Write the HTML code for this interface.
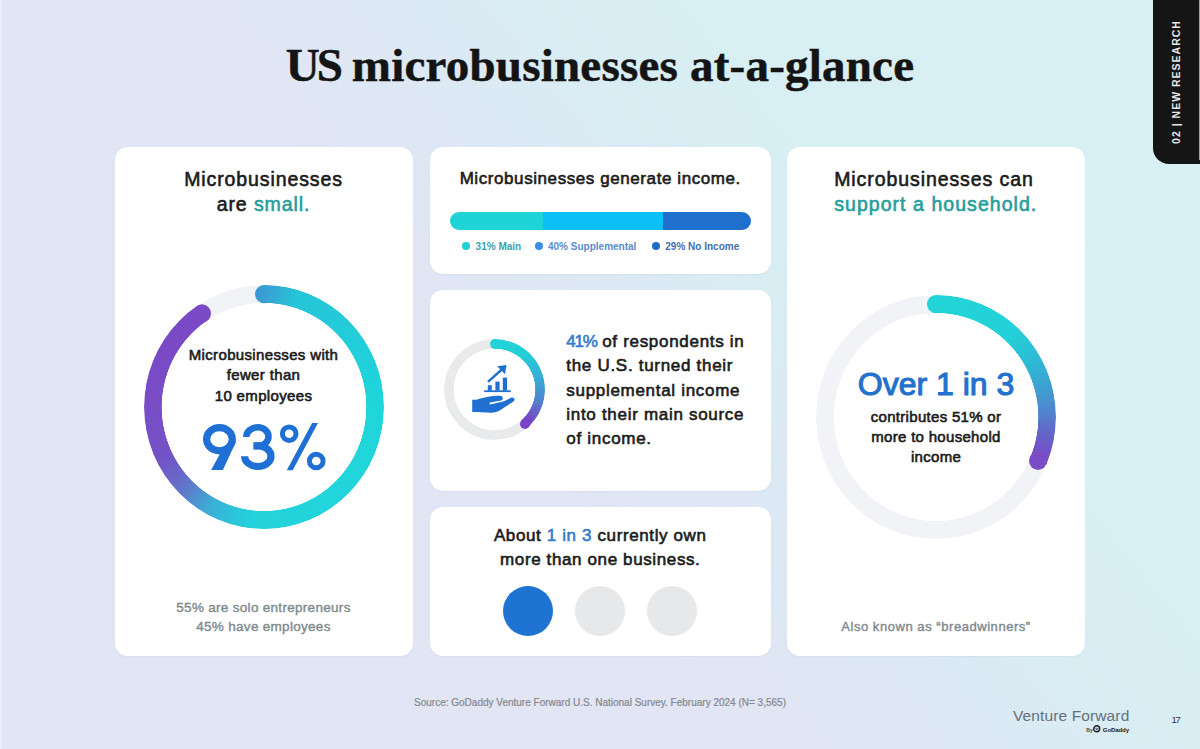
<!DOCTYPE html>
<html><head><meta charset="utf-8">
<style>
*{margin:0;padding:0;box-sizing:border-box}
html,body{width:1200px;height:749px;overflow:hidden}
body{position:relative;font-family:"Liberation Sans",sans-serif;color:#1b1b1b;
 background:linear-gradient(51deg,#e2e5f5 0%,#e1e5f4 43%,#dce9f4 55%,#d8eef3 66%,#d7f1f3 100%)}
.abs{position:absolute}
.t{position:absolute;white-space:nowrap;-webkit-text-stroke:0.6px currentColor}
.card{position:absolute;background:#fff;border-radius:13px;box-shadow:0 1px 2px rgba(70,80,130,0.06)}
.teal{color:#279d9c}
.blue{color:#2a7bd2}
.ring{position:absolute;border-radius:50%}
.cap{position:absolute;border-radius:50%}
</style></head><body>

<!-- Title -->
<div class="t" style="left:0;width:1200px;text-align:center;top:41.5px;font:bold 47px/47px 'Liberation Serif',serif;color:#141414;letter-spacing:0.22px;-webkit-text-stroke:0.5px #141414"><span style="letter-spacing:-3px">US</span> microbusinesses at-a-glance</div>

<!-- Tab -->
<div class="abs" style="left:1153px;top:0;width:47px;height:164px;background:#151515;border-bottom-left-radius:16px"></div>
<div class="t" style="left:1176.3px;top:81.8px;transform:translate(-50%,-50%) rotate(-90deg);font:bold 10.5px/12px 'Liberation Sans',sans-serif;-webkit-text-stroke:0;color:#e6e6e6;letter-spacing:1.0px">02 | NEW RESEARCH</div>

<div class="abs" style="left:1199px;top:0;width:1px;height:160px;background:#9aa3a6"></div>
<div class="abs" style="left:0;top:0;width:1.5px;height:749px;background:#e9ecfa"></div>
<!-- Cards -->
<div class="card" style="left:114.5px;top:146.5px;width:298px;height:509.5px"></div>
<div class="card" style="left:429.5px;top:146.5px;width:341.5px;height:127px"></div>
<div class="card" style="left:429.5px;top:290px;width:341.5px;height:201px"></div>
<div class="card" style="left:429.5px;top:507px;width:341.5px;height:149px"></div>
<div class="card" style="left:787px;top:146.5px;width:298px;height:509.5px"></div>

<!-- Card 1 -->
<div class="t" style="left:114.5px;width:298px;text-align:center;top:166.9px;font-size:19.5px;line-height:24.7px;letter-spacing:0.9px">Microbusinesses<br>are <span class="teal">small.</span></div>

<!--R1-->
<div class="abs" style="left:143.80px;top:287.25px;width:240px;height:240px;transform:scaleY(1.017)">
 <div class="ring" style="left:0;top:0;width:240px;height:240px;background:#f2f3f6;-webkit-mask:radial-gradient(farthest-side,transparent calc(100% - 18px),#000 calc(100% - 17.4px))"></div>
 <div class="ring" style="left:0;top:0;width:240px;height:240px;background:conic-gradient(#3d9bd3 0deg,#26c4d8 16deg,#1fd6da 90deg,#24d2dc 185deg,#2ac6d8 195deg,#3ab0d8 208deg,#5a80cc 222deg,#6a66c8 232deg,#7452c6 245deg,#7a4cc6 280deg,#7a48c6 325deg,transparent 326deg);-webkit-mask:radial-gradient(farthest-side,transparent calc(100% - 18px),#000 calc(100% - 17.4px))"></div>
 <div class="cap" style="left:111.00px;top:0;width:18px;height:18px;background:linear-gradient(90deg,#3b95d3,#3aa2d4 70%,#36aad5)"></div>
 <div class="cap" style="left:48.93px;top:18.98px;width:18px;height:18px;background:#7a4ac6"></div>
</div>
<!--/R1-->

<div class="t" style="left:114.5px;width:298px;text-align:center;top:345.35px;font-size:15px;line-height:20.1px;letter-spacing:0.35px">Microbusinesses with<br>fewer than<br>10 employees</div>
<svg class="abs" style="left:195px;top:415px" width="140" height="60" viewBox="195 415 140 60">
 <g fill="none" stroke="#1f70d4">
  <ellipse cx="219.45" cy="439.2" rx="12.85" ry="11.6" stroke-width="7.2"/>
  <path d="M246.3 437 A11.7 9.7 0 0 1 258 427.3 A10.5 9.3 0 0 1 268.5 436.6 A10.5 9.25 0 0 1 258 445.85 L253.6 445.85" stroke-width="6.6"/>
  <path d="M253.6 445.85 L258 445.85 A13 10.3 0 0 1 271 456.2 A13 10.3 0 0 1 258 466.5 A13.4 10.3 0 0 1 244.6 456.2" stroke-width="7.2"/>
  <circle cx="289.2" cy="433.7" r="6.8" stroke-width="5"/>
  <circle cx="316.25" cy="461" r="6.85" stroke-width="5"/>
 </g>
 <g fill="#1f70d4">
  <path d="M211.1 470 L222.9 470 L236.3 441 L230 441 L221 452 Z"/>
  <path d="M312.1 423.1 L318 423.1 L292.7 470.3 L286.8 470.3 Z"/>
 </g>
</svg>

<div class="t" style="left:114.5px;width:298px;text-align:center;top:598px;font-size:13.5px;line-height:19.2px;letter-spacing:0.3px;color:#7f8b8f;-webkit-text-stroke:0.4px currentColor">55% are solo entrepreneurs<br>45% have employees</div>

<!-- Card 2a -->
<div class="t" style="left:429.5px;width:341.5px;text-align:center;top:168.6px;font-size:17px;line-height:20px;letter-spacing:0.58px">Microbusinesses generate income.</div>
<div class="abs" style="left:449.5px;top:211.5px;width:301px;height:18px;border-radius:9px;overflow:hidden;background:linear-gradient(90deg,#1fd3d6 0,#1fd3d6 93.3px,#0bc1f8 93.3px,#0bc1f8 213.5px,#1f70cc 213.5px)"></div>
<div class="cap" style="left:462px;top:242px;width:8px;height:8px;background:#1fd0d4"></div>
<div class="t" style="left:475.6px;top:240.6px;font:bold 10px/12px 'Liberation Sans',sans-serif;-webkit-text-stroke:0;color:#3d9fae">31% Main</div>
<div class="cap" style="left:534.7px;top:242px;width:8px;height:8px;background:#3a8ee0"></div>
<div class="t" style="left:548px;top:240.6px;font:bold 10px/12px 'Liberation Sans',sans-serif;-webkit-text-stroke:0;color:#5b8ccb">40% Supplemental</div>
<div class="cap" style="left:652px;top:242px;width:8px;height:8px;background:#1f6cc8"></div>
<div class="t" style="left:665.3px;top:240.6px;font:bold 10px/12px 'Liberation Sans',sans-serif;-webkit-text-stroke:0;color:#3f6fae">29% No Income</div>

<!-- Card 2b -->
<!--R2-->
<div class="abs" style="left:444.00px;top:339.40px;width:101.0px;height:101.0px;transform:scaleY(1.0)">
 <div class="ring" style="left:0;top:0;width:101.0px;height:101.0px;background:#e9eaec;-webkit-mask:radial-gradient(farthest-side,transparent calc(100% - 10px),#000 calc(100% - 9.4px))"></div>
 <div class="ring" style="left:0;top:0;width:101.0px;height:101.0px;background:conic-gradient(#22d3d8 0deg,#24cfd8 40deg,#36b0d6 72deg,#4a8ad0 100deg,#6464c8 118deg,#7846c8 132deg,#7a42c8 138deg,transparent 138deg);-webkit-mask:radial-gradient(farthest-side,transparent calc(100% - 10px),#000 calc(100% - 9.4px))"></div>
 <div class="cap" style="left:45.50px;top:0;width:10px;height:10px;background:#22d3d8"></div>
 <div class="cap" style="left:75.95px;top:79.31px;width:10px;height:10px;background:#7a42c8"></div>
</div>
<!--/R2-->

<svg class="abs" style="left:465px;top:360px" width="60" height="60" viewBox="465 360 60 60">
 <g fill="#1f70d0">
  <rect x="484.2" y="390.3" width="26.5" height="1.8"/>
  <rect x="487.8" y="385.2" width="4" height="5.5"/>
  <rect x="495.4" y="381.6" width="4.2" height="9"/>
  <rect x="502.8" y="377.6" width="4.2" height="13"/>
  <path d="M487.2 381 L501 368.6 L502.6 370.4 L488.8 382.8 Z"/>
  <path d="M497.2 366.2 L506.5 365 L505 374.2 Z"/>
  <path d="M472.2 399.8 L476.5 399.8 C482 397.8 492 395.6 500 395.8 C503.2 396 503.8 399.6 501.2 400.4 L490.2 402.6 C489 403 489.6 404.6 491 404.3 L504 401.2 L511.5 397.6 C514.2 396.8 515.6 399.8 513.8 401.2 L500.5 410 C497.5 412 494 412.8 491 412.7 L476.5 412 L472.2 412 Z"/>
 </g>
</svg>

<div class="t" style="left:566.3px;top:330.4px;font-size:17px;line-height:24.07px;letter-spacing:0.7px">
<span style="color:#347dcc;letter-spacing:-1.2px">41%</span>  of respondents in<br>the U.S. turned their<br>supplemental income<br>into their main source<br>of income.</div>

<!-- Card 2c -->
<div class="t" style="left:429.5px;width:341.5px;text-align:center;top:523.8px;font-size:17px;line-height:24px;letter-spacing:0.62px">About <span style="color:#347dcc">1 in 3</span> currently own<br>more than one business.</div>
<div class="cap" style="left:502.5px;top:586px;width:50px;height:50px;background:#1f73d2"></div>
<div class="cap" style="left:575px;top:586px;width:50px;height:50px;background:#e7e8ea"></div>
<div class="cap" style="left:647px;top:586px;width:50px;height:50px;background:#e7e8ea"></div>

<!-- Card 3 -->
<div class="t" style="left:834.2px;top:166.9px;font-size:19.5px;line-height:24.9px;letter-spacing:0.92px">Microbusinesses can<br><span class="teal" style="letter-spacing:1.05px">support a household.</span></div>

<!--R3-->
<div class="abs" style="left:816.20px;top:297.15px;width:240px;height:240px;transform:scaleY(1.017)">
 <div class="ring" style="left:0;top:0;width:240px;height:240px;background:#f2f3f6;-webkit-mask:radial-gradient(farthest-side,transparent calc(100% - 18px),#000 calc(100% - 17.4px))"></div>
 <div class="ring" style="left:0;top:0;width:240px;height:240px;background:conic-gradient(#22d3d8 0deg,#22d2d8 42deg,#2fb8d6 62deg,#4892d0 82deg,#6266c8 98deg,#7650c6 108deg,#7a4cc6 113deg,transparent 113deg);-webkit-mask:radial-gradient(farthest-side,transparent calc(100% - 18px),#000 calc(100% - 17.4px))"></div>
 <div class="cap" style="left:111.00px;top:0;width:18px;height:18px;background:#22d3d8"></div>
 <div class="cap" style="left:213.18px;top:154.37px;width:18px;height:18px;background:#7a4cc6"></div>
</div>
<!--/R3-->

<div class="t" style="left:787px;width:298px;text-align:center;top:368.1px;font-size:32px;line-height:32px;color:#2271cc;-webkit-text-stroke:1.1px #2271cc">Over 1 in 3</div>
<div class="t" style="left:787px;width:298px;text-align:center;top:406.8px;font-size:15px;line-height:19.95px;letter-spacing:0.3px">contributes 51% or<br>more to household<br>income</div>
<div class="t" style="left:787px;width:298px;text-align:center;top:618.9px;font-size:13px;line-height:16px;letter-spacing:0.55px;color:#7f8b8f;-webkit-text-stroke:0.4px currentColor">Also known as “breadwinners”</div>

<!-- Footer -->
<div class="t" style="left:0;width:1200px;text-align:center;top:697.2px;font-size:10px;line-height:12px;color:#85888f;-webkit-text-stroke:0.2px currentColor">Source: GoDaddy Venture Forward U.S. National Survey. February 2024 (N= 3,565)</div>
<div class="t" style="left:1013px;top:707.6px;font-size:15.5px;line-height:16px;color:#66707a;letter-spacing:0.12px;-webkit-text-stroke:0">Venture Forward</div>
<div class="t" style="left:1086.3px;top:726.5px;font:bold 5px/7px 'Liberation Sans',sans-serif;color:#444;-webkit-text-stroke:0">By</div>
<svg class="abs" style="left:1093px;top:725.2px" width="8" height="8" viewBox="0 0 8 8"><circle cx="3.7" cy="3.8" r="3" fill="none" stroke="#222" stroke-width="1.4"/><path d="M2.2 2.6 L4.6 5.4 M4.2 2.8 L5.4 4.2" stroke="#222" stroke-width="1"/></svg>
<div class="t" style="left:1102.8px;top:724.6px;font:bold 6.2px/9px 'Liberation Sans',sans-serif;color:#222;letter-spacing:-0.2px;-webkit-text-stroke:0">GoDaddy</div>
<div class="t" style="left:1171.5px;top:713.7px;font-size:9.5px;line-height:12px;color:#333;letter-spacing:-1.4px;-webkit-text-stroke:0">17</div>

</body></html>
